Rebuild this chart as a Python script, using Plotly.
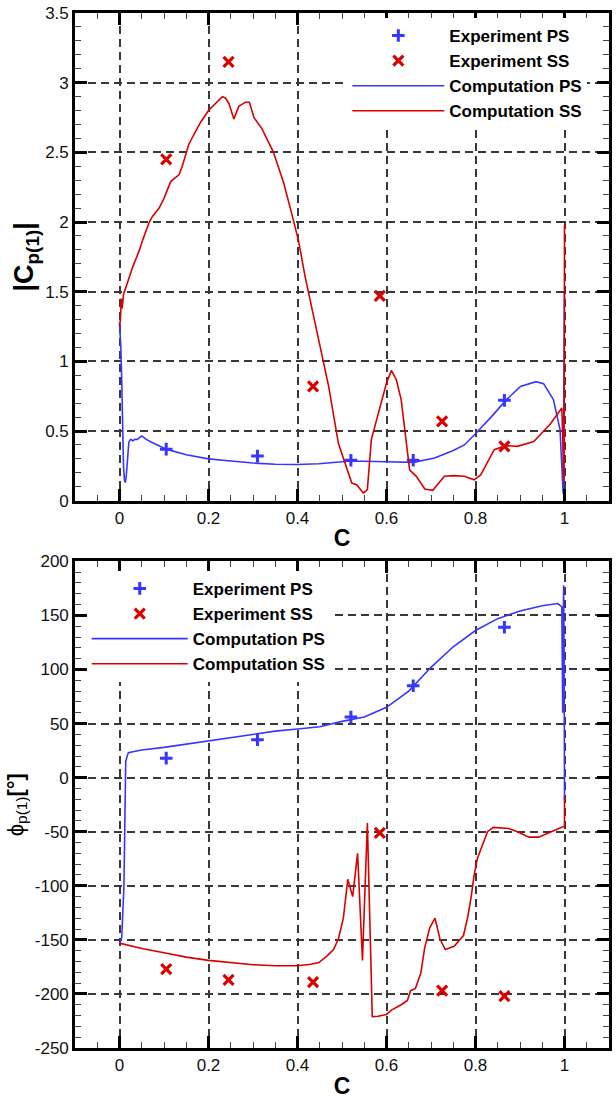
import plotly.graph_objects as go

# ---------------- data ----------------
c_exp_ps = [0.105, 0.31, 0.52, 0.66, 0.865]
c_exp_ss = [0.105, 0.245, 0.435, 0.585, 0.725, 0.865]

amp_exp_ps = [0.37, 0.32, 0.29, 0.29, 0.72]
amp_exp_ss = [2.45, 3.15, 0.82, 1.47, 0.57, 0.39]

phase_exp_ps = [18, 35, 56, 85, 139]
phase_exp_ss = [-177, -187, -189, -51, -197, -202]

c_amp_ps = [0.0, 0.003, 0.005, 0.007, 0.009, 0.011, 0.013, 0.015, 0.018, 0.021, 0.025,
            0.03, 0.035, 0.04, 0.05, 0.06, 0.072, 0.09, 0.105, 0.15, 0.2, 0.25, 0.3,
            0.35, 0.4, 0.448, 0.52, 0.6, 0.661, 0.708, 0.75, 0.775, 0.8, 0.835, 0.868,
            0.901, 0.936, 0.953, 0.975, 0.99, 0.997, 1.0]
amp_ps = [1.28, 1.1, 0.86, 0.5, 0.25, 0.15, 0.13, 0.17, 0.3, 0.42, 0.44,
          0.43, 0.44, 0.44, 0.465, 0.44, 0.42, 0.39, 0.37, 0.33, 0.30, 0.285, 0.27,
          0.262, 0.26, 0.265, 0.285, 0.28, 0.275, 0.306, 0.36, 0.40, 0.48, 0.6, 0.72,
          0.82, 0.854, 0.84, 0.725, 0.51, 0.05, 1.49]

c_amp_ss = [0.0, 0.002, 0.004, 0.006, 0.009, 0.013, 0.021, 0.03, 0.045, 0.052, 0.067,
            0.074, 0.089, 0.1, 0.115, 0.134, 0.141, 0.156, 0.171, 0.183, 0.2, 0.216,
            0.231, 0.238, 0.246, 0.257, 0.268, 0.283, 0.292, 0.302, 0.32, 0.346, 0.369,
            0.387, 0.402, 0.417, 0.432, 0.448, 0.47, 0.492, 0.522, 0.533, 0.548, 0.557,
            0.566, 0.6, 0.611, 0.622, 0.633, 0.652, 0.667, 0.686, 0.704, 0.73, 0.752,
            0.775, 0.797, 0.812, 0.842, 0.868, 0.894, 0.931, 0.968, 0.994, 0.999, 1.0]
amp_ss = [1.25, 1.3, 1.45, 1.38, 1.48, 1.52, 1.59, 1.68, 1.80, 1.87, 2.0,
          2.04, 2.1, 2.17, 2.29, 2.34, 2.4, 2.56, 2.65, 2.72, 2.80, 2.85,
          2.90, 2.89, 2.85, 2.74, 2.83, 2.86, 2.86, 2.75, 2.67, 2.50, 2.28,
          2.06, 1.87, 1.61, 1.38, 1.155, 0.82, 0.41, 0.127, 0.115, 0.055, 0.08,
          0.44, 0.845, 0.935, 0.868, 0.725, 0.22, 0.175, 0.084, 0.074, 0.175, 0.18,
          0.175, 0.15, 0.187, 0.366, 0.395, 0.39, 0.425, 0.55, 0.665, 0.13, 1.98]

c_ph_ps = [0.0, 0.005, 0.01, 0.012, 0.014, 0.018, 0.02, 0.03, 0.05, 0.1, 0.15, 0.2,
           0.25, 0.3, 0.35, 0.4, 0.45, 0.5, 0.55, 0.6, 0.65, 0.7, 0.75, 0.8, 0.85,
           0.9, 0.95, 0.985, 0.994, 0.996, 0.998, 0.999, 1.0]
ph_ps = [-153, -148, -100, -20, 15, 21, 23, 24, 25.5, 28, 31, 33.5,
         37, 40, 43, 45, 47, 52, 56, 65, 80, 102, 121, 136, 147,
         154, 159, 161, 158, 60, 178, 120, -20]

c_ph_ss = [0.0, 0.05, 0.1, 0.15, 0.2, 0.25, 0.3, 0.35, 0.4, 0.43, 0.448, 0.466,
           0.481, 0.492, 0.503, 0.513, 0.524, 0.535, 0.546, 0.557, 0.568, 0.581,
           0.6, 0.611, 0.633, 0.647, 0.654, 0.665, 0.677, 0.686, 0.697, 0.709,
           0.72, 0.732, 0.752, 0.773, 0.782, 0.79, 0.797, 0.804, 0.816, 0.827,
           0.84, 0.875, 0.894, 0.92, 0.942, 0.968, 0.987, 1.0, 1.0]
ph_ss = [-153, -158, -162, -166, -169, -171, -173, -174, -174, -172.5, -171, -165,
         -159, -149, -130, -94, -110, -70, -169, -42, -221, -220.7,
         -219, -215, -210, -206, -197, -195, -181, -157, -139, -130,
         -149, -159, -156, -146, -130, -111, -90, -75, -61, -50,
         -46, -47, -50, -55, -55, -50, -47, -45, -17]

amp_ticks = [0, 0.5, 1, 1.5, 2, 2.5, 3, 3.5]
amp_ticktext = ["0", "0.5", "1", "1.5", "2", "2.5", "3", "3.5"]
ph_ticks = [-250, -200, -150, -100, -50, 0, 50, 100, 150, 200]
ph_ticktext = ["-250", "-200", "-150", "-100", "-50", "0", "50", "100", "150", "200"]
c_ticks = [0, 0.2, 0.4, 0.6, 0.8, 1]
c_ticktext = ["0", "0.2", "0.4", "0.6", "0.8", "1"]

# ---------------- style ----------------
BLUE = "#3636ff"
RED = "#d90000"
FONT = "Liberation Sans, Arial, sans-serif"

fig = go.Figure()

def add_set(xa, ya, legend, cps, yps, css, yss, cl_ps, yl_ps, cl_ss, yl_ss):
    fig.add_trace(go.Scatter(x=cps, y=yps, mode="markers", name="<b>Experiment PS</b>",
                             marker=dict(symbol="cross-thin-open", size=9, color=BLUE,
                                         line=dict(color=BLUE, width=3)),
                             xaxis=xa, yaxis=ya, legend=legend))
    fig.add_trace(go.Scatter(x=css, y=yss, mode="markers", name="<b>Experiment SS</b>",
                             marker=dict(symbol="x-thin-open", size=10, color=RED,
                                         line=dict(color=RED, width=3.2)),
                             xaxis=xa, yaxis=ya, legend=legend))
    fig.add_trace(go.Scatter(x=cl_ps, y=yl_ps, mode="lines", name="<b>Computation PS</b>",
                             line=dict(color=BLUE, width=1.6),
                             xaxis=xa, yaxis=ya, legend=legend))
    fig.add_trace(go.Scatter(x=cl_ss, y=yl_ss, mode="lines", name="<b>Computation SS</b>",
                             line=dict(color=RED, width=1.6),
                             xaxis=xa, yaxis=ya, legend=legend))

add_set("x", "y", "legend", c_exp_ps, amp_exp_ps, c_exp_ss, amp_exp_ss,
        c_amp_ps, amp_ps, c_amp_ss, amp_ss)
add_set("x2", "y2", "legend2", c_exp_ps, phase_exp_ps, c_exp_ss, phase_exp_ss,
        c_ph_ps, ph_ps, c_ph_ss, ph_ss)

axis_common = dict(
    showline=True, linecolor="black", linewidth=2.6, mirror="allticks",
    ticks="inside", ticklen=12, tickwidth=2.6, tickcolor="black",
    showgrid=True, gridcolor="#383838", gridwidth=1.5, griddash="8px,5px",
    zeroline=False, tickfont=dict(family=FONT, size=17, color="#111"),
)

xcommon = dict(axis_common, range=[-0.1, 1.1], tickvals=c_ticks, ticktext=c_ticktext,
               minor=dict(dtick=0.05, tick0=0, ticks="inside", ticklen=6, tickwidth=1,
                          tickcolor="#444", showgrid=False),
               title=dict(text="<b>C</b>", font=dict(family=FONT, size=23, color="black"),
                          standoff=4))

fig.update_layout(
    width=616, height=1099,
    margin=dict(l=75, r=4, t=12, b=45),
    paper_bgcolor="white", plot_bgcolor="white",
    showlegend=True,
    xaxis=dict(xcommon, domain=[0, 1], anchor="y"),
    xaxis2=dict(xcommon, domain=[0, 1], anchor="y2"),
    yaxis=dict(axis_common, domain=[0.5288, 1.0], anchor="x", range=[0, 3.5],
               tickvals=amp_ticks, ticktext=amp_ticktext,
               minor=dict(dtick=0.1, tick0=0, ticks="inside", ticklen=6, tickwidth=1,
                          tickcolor="#444", showgrid=False),
               title=dict(text="<b>|C<sub>p(1)</sub>|</b>",
                          font=dict(family=FONT, size=27, color="black"), standoff=4)),
    yaxis2=dict(axis_common, domain=[0.0, 0.4702], anchor="x2", range=[-250, 200],
                tickvals=ph_ticks, ticktext=ph_ticktext,
                minor=dict(dtick=10, tick0=0, ticks="inside", ticklen=6, tickwidth=1,
                           tickcolor="#444", showgrid=False),
                title=dict(text="ϕ<sub>p(1)</sub><b>[°]</b>",
                           font=dict(family=FONT, size=22, color="black"), standoff=6)),
    legend=dict(x=0.51, y=0.9952, xanchor="left", yanchor="top",
                bgcolor="white", borderwidth=0, itemwidth=92,
                font=dict(family=FONT, size=17, color="black"),
                tracegroupgap=0, itemclick=False),
    legend2=dict(x=0.022, y=0.461, xanchor="left", yanchor="top",
                 bgcolor="white", borderwidth=0, itemwidth=96,
                 font=dict(family=FONT, size=17, color="black"),
                 tracegroupgap=0, itemclick=False),
)

fig.write_html("out.html")
